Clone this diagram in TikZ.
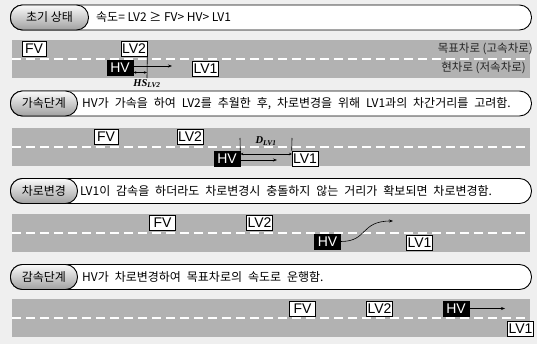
\documentclass[tikz,border=0pt]{standalone}
\usepackage{fontspec}
\setmainfont{Noto Sans CJK KR}
\newfontfamily\carfont{Liberation Sans}
\newfontfamily\annofont{Liberation Serif}
\usetikzlibrary{arrows.meta}
\newcommand{\hdrspaces}{\spaceskip=5.9pt plus 1pt minus 1pt\relax}
\definecolor{bgcol}{HTML}{EFEFEF}
\definecolor{roadcol}{HTML}{B2B2B2}
\definecolor{pilltop}{HTML}{FAFAFA}
\definecolor{pillbot}{HTML}{A0A0A0}
\tikzset{
  headerbox/.style={draw=black, fill=white, line width=0.9pt, rounded corners=12pt, minimum height=25pt, inner sep=0pt, anchor=west},
  pillbox/.style={draw=black, line width=0.9pt, rounded corners=12pt, minimum height=25pt, inner sep=0pt, anchor=west, top color=pilltop, bottom color=pillbot, font=\fontsize{12}{14}\selectfont},
  headtext/.style={anchor=west, inner sep=0pt, font=\fontsize{12}{14}\selectfont},
  widetext/.style={anchor=west, inner sep=0pt, font=\fontsize{12}{14}\selectfont\hdrspaces},
  lanetext/.style={anchor=east, inner sep=0pt, text=black!85, font=\fontsize{11.5}{13}\selectfont},
  road/.style={fill=roadcol},
  lanedash/.style={draw=white, line width=1.3pt, dash pattern=on 9pt off 5pt},
  car/.style={draw=black, fill=white, line width=0.6pt, inner sep=0pt, minimum width=26pt, minimum height=15pt, font=\carfont\fontsize{14}{14}\selectfont},
  hvcar/.style={car, fill=black, text=white},
  arr/.style={line width=0.6pt, -{Stealth[length=4pt,width=3pt]}},
  darr/.style={line width=0.6pt, {Stealth[length=3pt,width=2.5pt]}-{Stealth[length=3pt,width=2.5pt]}},
  guide/.style={line width=0.6pt},
  anno/.style={inner sep=0pt, font=\annofont\bfseries\itshape\fontsize{10.5}{12}\selectfont}
}
\begin{document}
\begin{tikzpicture}[x=1pt,y=-1pt]
\fill[bgcol] (0,0) rectangle (537,344);
\useasboundingbox (0,0) rectangle (537,344);

% ---------- Panel 1 ----------
\node[headerbox, minimum width=521pt] (h1) at (10,17.5) {};
\node[pillbox, minimum width=78pt] (p1) at (10,17.5) {초기 상태};
\node[headtext] (t1) at (96,17.5) {속도= LV2 ≥ FV> HV> LV1};
\fill[road] (12,40) rectangle (530,78);
\draw[lanedash] (12,59) -- (530,59);
\node[lanetext] (l1a) at (533,49) {목표차로 (고속차로)};
\node[lanetext] (l1b) at (526,68) {현차로 (저속차로)};
\node[car, minimum width=24pt] (fv1) at (34,49) {FV};
\node[car] (lv21) at (134,49) {LV2};
\node[hvcar] (hv1) at (120,68) {HV};
\node[car] (lv11) at (205.5,68.5) {LV1};
\coordinate (a1) at (172,66);
\coordinate (v1) at (147,78);
\coordinate (hs) at (147,72.5);
\draw[guide] (lv21.south east) -- (v1);
\draw[arr] (hv1.east |- a1) -- (a1);
\draw[darr] (hv1.east |- hs) -- (hs);
\node[anno] (hsl) at (147,83.5) {HS\textsubscript{LV2}};

% ---------- Panel 2 ----------
\node[headerbox, minimum width=521pt] (h2) at (10,103.5) {};
\node[pillbox, minimum width=67pt] (p2) at (10,103.5) {가속단계};
\node[widetext] (t2) at (82,103.5) {HV가 가속을 하여 LV2를 추월한 후, 차로변경을 위해 LV1과의 차간거리를 고려함.};
\fill[road] (12,128) rectangle (530,166);
\draw[lanedash] (12,147) -- (530,147);
\node[car, minimum width=24pt] (fv2) at (106,137) {FV};
\node[car] (lv22) at (190,137) {LV2};
\node[hvcar] (hv2) at (227,158.5) {HV};
\node[car] (lv12) at (305,158.5) {LV1};
\coordinate (v2a) at (240,138);
\coordinate (v2b) at (292,138);
\draw[guide] (hv2.north east) -- (v2a);
\draw[guide] (lv12.north west) -- (v2b);
\coordinate (d2) at (292,154);
\coordinate (a2) at (277,160);
\draw[darr] (hv2.east |- d2) -- (d2);
\draw[arr] (hv2.east |- a2) -- (a2);
\node[anno] (dl) at (266,141) {D\textsubscript{LV1}};

% ---------- Panel 3 ----------
\node[headerbox, minimum width=521pt] (h3) at (10,191) {};
\node[pillbox, minimum width=67pt] (p3) at (10,191) {차로변경};
\node[widetext] (t3) at (80,191) {LV1이 감속을 하더라도 차로변경시 충돌하지 않는 거리가 확보되면 차로변경함.};
\fill[road] (12,214) rectangle (530,252);
\draw[lanedash] (12,233) -- (530,233);
\node[car] (fv3) at (162.5,223) {FV};
\node[car] (lv23) at (259.5,223) {LV2};
\node[hvcar] (hv3) at (327.5,241.5) {HV};
\node[car] (lv13) at (419.5,242.5) {LV1};
\coordinate (c3) at (393,221);
\draw[arr] (hv3.east) .. controls (368,241.5) and (360,221) .. (c3);

% ---------- Panel 4 ----------
\node[headerbox, minimum width=521pt] (h4) at (10,277) {};
\node[pillbox, minimum width=67pt] (p4) at (10,277) {감속단계};
\node[widetext] (t4) at (82,277) {HV가 차로변경하여 목표차로의 속도로 운행함.};
\fill[road] (12,299) rectangle (530,337);
\draw[lanedash] (12,318) -- (530,318);
\node[car] (fv4) at (302.5,308.5) {FV};
\node[car] (lv24) at (379.5,308.5) {LV2};
\node[hvcar] (hv4) at (456,308.5) {HV};
\node[car] (lv14) at (520.5,329) {LV1};
\coordinate (a4) at (505,308.5);
\draw[arr] (hv4.east) -- (a4);
\end{tikzpicture}
\end{document}
